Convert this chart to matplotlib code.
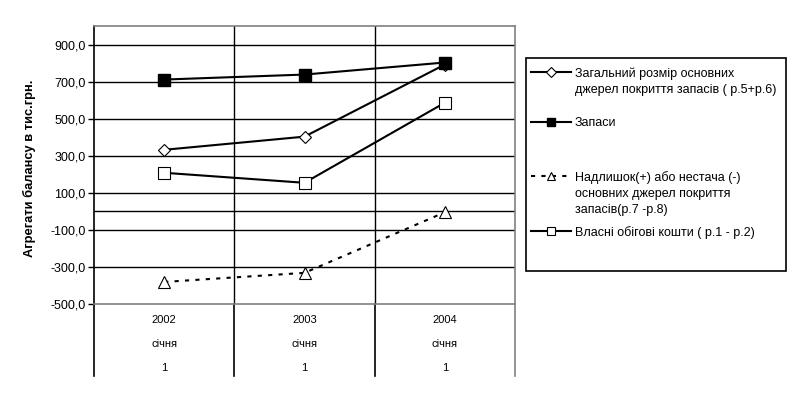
import matplotlib
matplotlib.use("Agg")
import matplotlib.pyplot as plt
from matplotlib.lines import Line2D
from matplotlib.patches import Rectangle

plt.rcParams['font.family'] = ['Liberation Sans', 'DejaVu Sans']

years = ['2002', '2003', '2004']
month = 'січня'
day = '1'

total_sources = [332, 403, 792]
stocks = [711, 738, 803]
surplus = [-381, -332, -5]
own_capital = [208, 154, 586]

labels = [
    'Загальний розмір основних\nджерел покриття запасів ( р.5+р.6)',
    'Запаси',
    'Надлишок(+) або нестача (-)\nосновних джерел покриття\nзапасів(р.7 -р.8)',
    'Власні обігові кошти ( р.1 - р.2)',
]

W, H = 796, 394


def fx(px):
    return px / W


def fy(py):
    return 1 - py / H


fig = plt.figure(figsize=(W / 100, H / 100), dpi=100)
ax = fig.add_axes([fx(94), fy(304), fx(515) - fx(94), fy(26) - fy(304)])

x = list(range(len(years)))
lw = 1.5
ax.plot(x, total_sources, color='black', lw=lw, marker='D', ms=6.5,
        mfc='white', mec='black', mew=0.8, zorder=4)
ax.plot(x, stocks, color='black', lw=lw, marker='s', ms=8,
        mfc='black', mec='black', zorder=4)
ax.plot(x, surplus, color='black', lw=lw, dashes=[2, 3], marker='^', ms=9,
        mfc='white', mec='black', mew=0.8, zorder=4)
ax.plot(x, own_capital, color='black', lw=lw, marker='s', ms=9,
        mfc='white', mec='black', mew=0.8, zorder=4)

ax.set_xlim(-0.5, 2.5)
ax.set_ylim(-500, 1000)
yt = list(range(-500, 1000, 200))
ax.set_yticks(yt)
ax.set_yticklabels([f'{v},0' for v in yt], fontsize=9)
ax.tick_params(axis='y', length=4, width=1, direction='out', pad=2)
ax.set_xticks([])
for v in yt[1:]:
    ax.axhline(v, color='black', lw=1, zorder=1)
ax.axhline(0, color='black', lw=1, zorder=1)

for side in ['top', 'right', 'bottom']:
    ax.spines[side].set_color('gray')
    ax.spines[side].set_linewidth(1.2)
ax.spines['left'].set_linewidth(1.2)

# category dividers, continued down through the label area
for b in [0.5, 1.5]:
    ax.axvline(b, color='black', lw=1, zorder=1)
for b, c in [(-0.5, 'black'), (0.5, 'black'), (1.5, 'black'), (2.5, 'gray')]:
    ax.plot([b, b], [-500, -500 - 72 / 259 * 1400], color=c, lw=1.2,
            clip_on=False)

for i, yr in enumerate(years):
    px = ax.transData.transform((i, 0))[0]
    for row, t in zip([320, 344, 368], [yr, month, day]):
        fig.text(px / W, fy(row), t, ha='center', va='center', fontsize=8)

fig.text(fx(29), fy(168), 'Агрегати балансу в тис.грн.', rotation=90,
         ha='center', va='center', fontsize=9.3, fontweight='bold')

# legend drawn by hand
fig.patches.append(Rectangle((fx(526), fy(271)), fx(786) - fx(526), fy(58) - fy(271),
                             transform=fig.transFigure, fill=False,
                             edgecolor='black', lw=1.2))
entries = [
    (72, dict(marker='D', ms=5, mfc='white', mew=0.8), '-'),
    (122, dict(marker='s', ms=6, mfc='black'), '-'),
    (176, dict(marker='^', ms=6, mfc='white', mew=0.8), '--'),
    (231, dict(marker='s', ms=6, mfc='white', mew=0.8), '-'),
]
for (py, mk, ls), lab in zip(entries, labels):
    kw = dict(dashes=[2, 3]) if ls == '--' else {}
    fig.lines.append(Line2D([fx(531), fx(571)], [fy(py), fy(py)], color='black',
                            lw=lw, transform=fig.transFigure, **kw))
    fig.lines.append(Line2D([fx(551)], [fy(py)], color='black', mec='black',
                            transform=fig.transFigure, **mk))
    fig.text(fx(575), fy(py - 5), lab, ha='left', va='top', fontsize=9,
             linespacing=1.45, transform=fig.transFigure)

fig.savefig('out.png', dpi=100)
